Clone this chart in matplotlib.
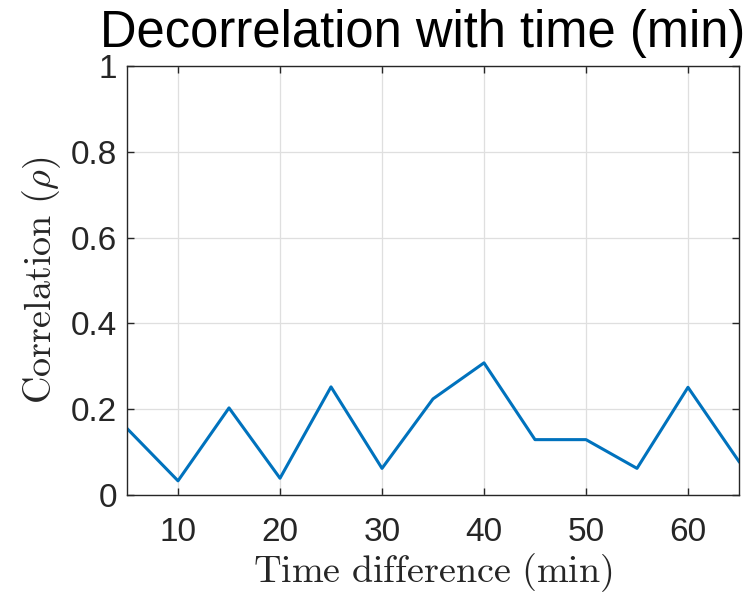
import matplotlib
matplotlib.use("Agg")
import matplotlib.pyplot as plt

# Correlation between frames as a function of their time separation
time_diff = [5, 10, 15, 20, 25, 30, 35, 40, 45, 50, 55, 60, 65]
correlation = [0.155, 0.033, 0.203, 0.039, 0.252, 0.062, 0.224, 0.308,
               0.129, 0.129, 0.062, 0.251, 0.078]

x_ticks = [10, 20, 30, 40, 50, 60]
y_ticks = [0, 0.2, 0.4, 0.6, 0.8, 1]
y_tick_labels = ["0", "0.2", "0.4", "0.6", "0.8", "1"]

plt.rcParams["mathtext.fontset"] = "cm"
plt.rcParams["font.family"] = ["Liberation Sans", "DejaVu Sans"]

fig = plt.figure(figsize=(7.56, 5.92), dpi=100)
ax = fig.add_axes([0.168, 0.1639, 0.8095, 0.7246])

ax.plot(time_diff, correlation, color="#0072BD", linewidth=2.2)

ax.set_xlim(5, 65)
ax.set_ylim(0, 1)
ax.set_xticks(x_ticks)
ax.set_yticks(y_ticks)
ax.set_yticklabels(y_tick_labels)

ax.grid(True, color="#dfdfdf", linewidth=0.9)
ax.set_axisbelow(True)

for side in ax.spines.values():
    side.set_color("#262626")
    side.set_linewidth(1.0)

ax.tick_params(axis="both", which="major", direction="in", length=5,
               width=1.0, color="#262626", labelsize=24, labelcolor="#262626",
               top=True, right=True)
ax.tick_params(axis="x", pad=16)
ax.tick_params(axis="y", pad=7)

ax.set_xlabel(r"$\mathrm{Time\ difference\ (min)}$", fontsize=27.5,
              color="#262626", labelpad=2)
ax.set_ylabel(r"$\mathrm{Correlation\ }(\rho)$", fontsize=27.5,
              color="#262626", labelpad=6)
ax.set_title("Decorrelation with time (min)", fontsize=36.5, color="black",
             x=0.483, pad=14)

fig.savefig("out.png", dpi=100)
